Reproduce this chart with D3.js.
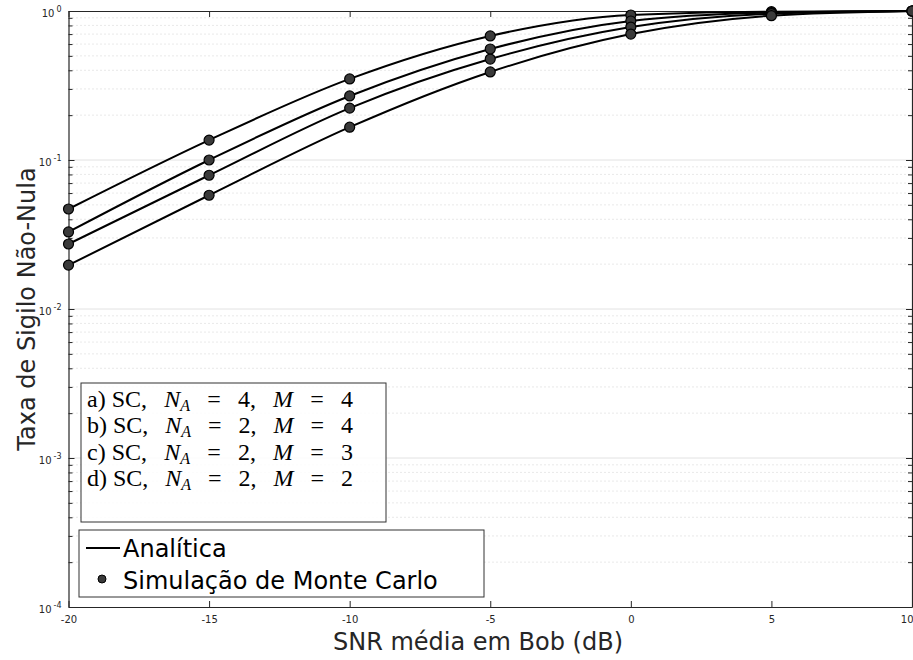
<!DOCTYPE html>
<html>
<head>
<meta charset="utf-8">
<script src="https://cdn.jsdelivr.net/npm/d3@7"></script>
<style>
  body { margin: 0; background: #fff; }
  svg { display: block; }
</style>
</head>
<body>
<div id="chart"></div>
<script>
// data
const snrDb = [-20, -15, -10, -5, 0, 5, 10];
const curveA = [0.0469, 0.136, 0.350, 0.680, 0.940, 0.990, 1.0];
const curveB = [0.0329, 0.100, 0.269, 0.556, 0.857, 0.975, 1.0];
const curveC = [0.0273, 0.079, 0.223, 0.476, 0.780, 0.960, 1.0];
const curveD = [0.0197, 0.058, 0.166, 0.390, 0.700, 0.930, 1.0];
const xTicks = [-20, -15, -10, -5, 0, 5, 10];
const yExponents = [0, -1, -2, -3, -4];
const caseLabels = [
    { tag: 'a)', na: '4', m: '4' },
    { tag: 'b)', na: '2', m: '4' },
    { tag: 'c)', na: '2', m: '3' },
    { tag: 'd)', na: '2', m: '2' }
];
const seriesLabels = ['Analítica', 'Simulação de Monte Carlo'];

const width = 913, height = 660;
const margin = { left: 68.5, right: 1, top: 11, bottom: 53 };
const boundedWidth = width - margin.left - margin.right;
const boundedHeight = height - margin.top - margin.bottom;

const svg = d3.select('#chart').append('svg')
    .attr('width', width)
    .attr('height', height)
    .style('font-family', 'DejaVu Sans, Liberation Sans, sans-serif');

const g = svg.append('g')
    .attr('transform', 'translate(' + margin.left + ',' + margin.top + ')');

// scales
const xScale = d3.scaleLinear().domain([-20, 10]).range([0, boundedWidth]);
const yScale = d3.scaleLog().domain([1e-4, 1]).range([boundedHeight, 0]);

// grid: solid at decades, dotted at minor values
const minorVals = [];
yExponents.slice(1).forEach(e => {
    for (let k = 2; k <= 9; k++) minorVals.push(k * Math.pow(10, e));
});
g.append('g').selectAll('line').data(minorVals).join('line')
    .attr('x1', 0).attr('x2', boundedWidth)
    .attr('y1', d => yScale(d)).attr('y2', d => yScale(d))
    .attr('stroke', '#c8c8c8').attr('stroke-width', 0.8)
    .attr('stroke-dasharray', '1,3');
g.append('g').selectAll('line').data(yExponents.slice(1, 4)).join('line')
    .attr('x1', 0).attr('x2', boundedWidth)
    .attr('y1', d => yScale(Math.pow(10, d))).attr('y2', d => yScale(Math.pow(10, d)))
    .attr('stroke', '#e2e2e2').attr('stroke-width', 1);

// axes (ticks pointing inward, box all around)
const xAxisBottom = d3.axisBottom(xScale).tickValues(xTicks).tickSizeInner(-6).tickSizeOuter(0)
    .tickFormat(d => String(d));
const xAxisTop = d3.axisTop(xScale).tickValues(xTicks).tickSizeInner(-6).tickSizeOuter(0)
    .tickFormat('');
const yTickVals = yExponents.map(e => Math.pow(10, e)).concat(minorVals);
const yAxisLeft = d3.axisLeft(yScale).tickValues(yTickVals).tickSizeOuter(0).tickFormat('');
const yAxisRight = d3.axisRight(yScale).tickValues(yTickVals).tickSizeOuter(0).tickFormat('');

function styleAxis(sel) {
    sel.attr('font-family', null);
    sel.select('.domain').attr('stroke', '#262626').attr('stroke-width', 1.2);
    sel.selectAll('.tick line').attr('stroke', '#262626');
    sel.selectAll('.tick text').attr('fill', '#262626').attr('font-size', 10);
}

const xLabels = g.append('g').attr('transform', 'translate(0,' + boundedHeight + ')').call(xAxisBottom)
    .call(styleAxis)
    .selectAll('.tick text').attr('dy', '0.9em').attr('y', 7);
// keep the last label inside the window
xLabels.filter(d => d === 10).attr('text-anchor', 'end').attr('dx', 1);
g.append('g').call(xAxisTop).call(styleAxis);
g.append('g').call(yAxisLeft).call(styleAxis)
    .selectAll('.tick line').attr('x2', d => Number.isInteger(Math.log10(d)) ? 6 : 4);
g.append('g').attr('transform', 'translate(' + boundedWidth + ',0)').call(yAxisRight).call(styleAxis)
    .selectAll('.tick line').attr('x2', d => Number.isInteger(Math.log10(d)) ? -6 : -4);

// y tick labels 10^n
const yLab = g.append('g').selectAll('text').data(yExponents).join('text')
    .attr('x', -7)
    .attr('y', d => yScale(Math.pow(10, d)) + 6)
    .attr('text-anchor', 'end')
    .attr('font-size', 10)
    .attr('fill', '#262626');
yLab.append('tspan').text('10');
yLab.append('tspan').attr('dx', 2).attr('dy', -5).attr('font-size', 8).text(d => String(d));

// curves
const allSeries = [curveA, curveB, curveC, curveD];
const lineGen = d3.line()
    .x((d, i) => xScale(snrDb[i]))
    .y(d => yScale(d))
    .curve(d3.curveMonotoneX);

g.append('g').selectAll('path').data(allSeries).join('path')
    .attr('fill', 'none')
    .attr('stroke', '#000')
    .attr('stroke-width', 2)
    .attr('d', lineGen);

allSeries.forEach(s => {
    g.append('g').selectAll('circle').data(s).join('circle')
        .attr('cx', (d, i) => xScale(snrDb[i]))
        .attr('cy', d => yScale(d))
        .attr('r', 5)
        .attr('fill', '#3a3a3a')
        .attr('stroke', '#000')
        .attr('stroke-width', 1.2);
});

// legend 1: cases (latex-like text)
const leg1 = svg.append('g');
leg1.append('rect')
    .attr('x', 81).attr('y', 383).attr('width', 305).attr('height', 139)
    .attr('fill', '#fff').attr('fill-opacity', 0.85)
    .attr('stroke', '#333').attr('stroke-width', 1);
const caseText = leg1.selectAll('text').data(caseLabels).join('text')
    .attr('x', 87)
    .attr('y', (d, i) => 407 + i * 26.3)
    .attr('font-family', 'Liberation Serif, Times New Roman, serif')
    .attr('font-size', 24)
    .attr('fill', '#000');
caseText.append('tspan').text(d => d.tag + ' SC,');
caseText.append('tspan').attr('class', 'gap').attr('font-style', 'italic').text('N');
caseText.append('tspan').attr('font-style', 'italic').attr('font-size', 16).attr('dy', 4).text('A');
caseText.append('tspan').attr('class', 'gap').attr('dy', -4).text('=');
caseText.append('tspan').attr('class', 'gap').text(d => d.na + ',');
caseText.append('tspan').attr('class', 'gap').attr('font-style', 'italic').text('M');
caseText.append('tspan').attr('class', 'gap').text('=');
caseText.append('tspan').attr('class', 'gap').text(d => d.m);
// spread the line to the width of the math-typeset original
caseText.each(function () {
    const len = this.getComputedTextLength();
    const gaps = d3.select(this).selectAll('.gap');
    const extra = Math.max(0, (266 - len) / gaps.size());
    gaps.attr('dx', extra);
});

// legend 2: line / marker
const leg2 = svg.append('g');
leg2.append('rect')
    .attr('x', 79).attr('y', 530).attr('width', 405).attr('height', 67)
    .attr('fill', '#fff')
    .attr('stroke', '#333').attr('stroke-width', 1);
leg2.append('line')
    .attr('x1', 86).attr('x2', 120).attr('y1', 548).attr('y2', 548)
    .attr('stroke', '#000').attr('stroke-width', 2);
leg2.append('circle')
    .attr('cx', 102).attr('cy', 579).attr('r', 4)
    .attr('fill', '#3a3a3a').attr('stroke', '#000').attr('stroke-width', 1);
leg2.selectAll('text').data(seriesLabels).join('text')
    .attr('x', 123)
    .attr('y', (d, i) => 557 + i * 31.5)
    .attr('font-size', 24)
    .attr('fill', '#000')
    .text(d => d);

// axis titles
svg.append('text')
    .attr('x', 478)
    .attr('y', 650)
    .attr('text-anchor', 'middle')
    .attr('font-size', 24)
    .attr('fill', '#262626')
    .text('SNR média em Bob (dB)');
svg.append('text')
    .attr('transform', 'translate(35,' + (margin.top + boundedHeight / 2) + ') rotate(-90)')
    .attr('text-anchor', 'middle')
    .attr('font-size', 24)
    .attr('fill', '#262626')
    .text('Taxa de Sigilo Não-Nula');
</script>
</body>
</html>
